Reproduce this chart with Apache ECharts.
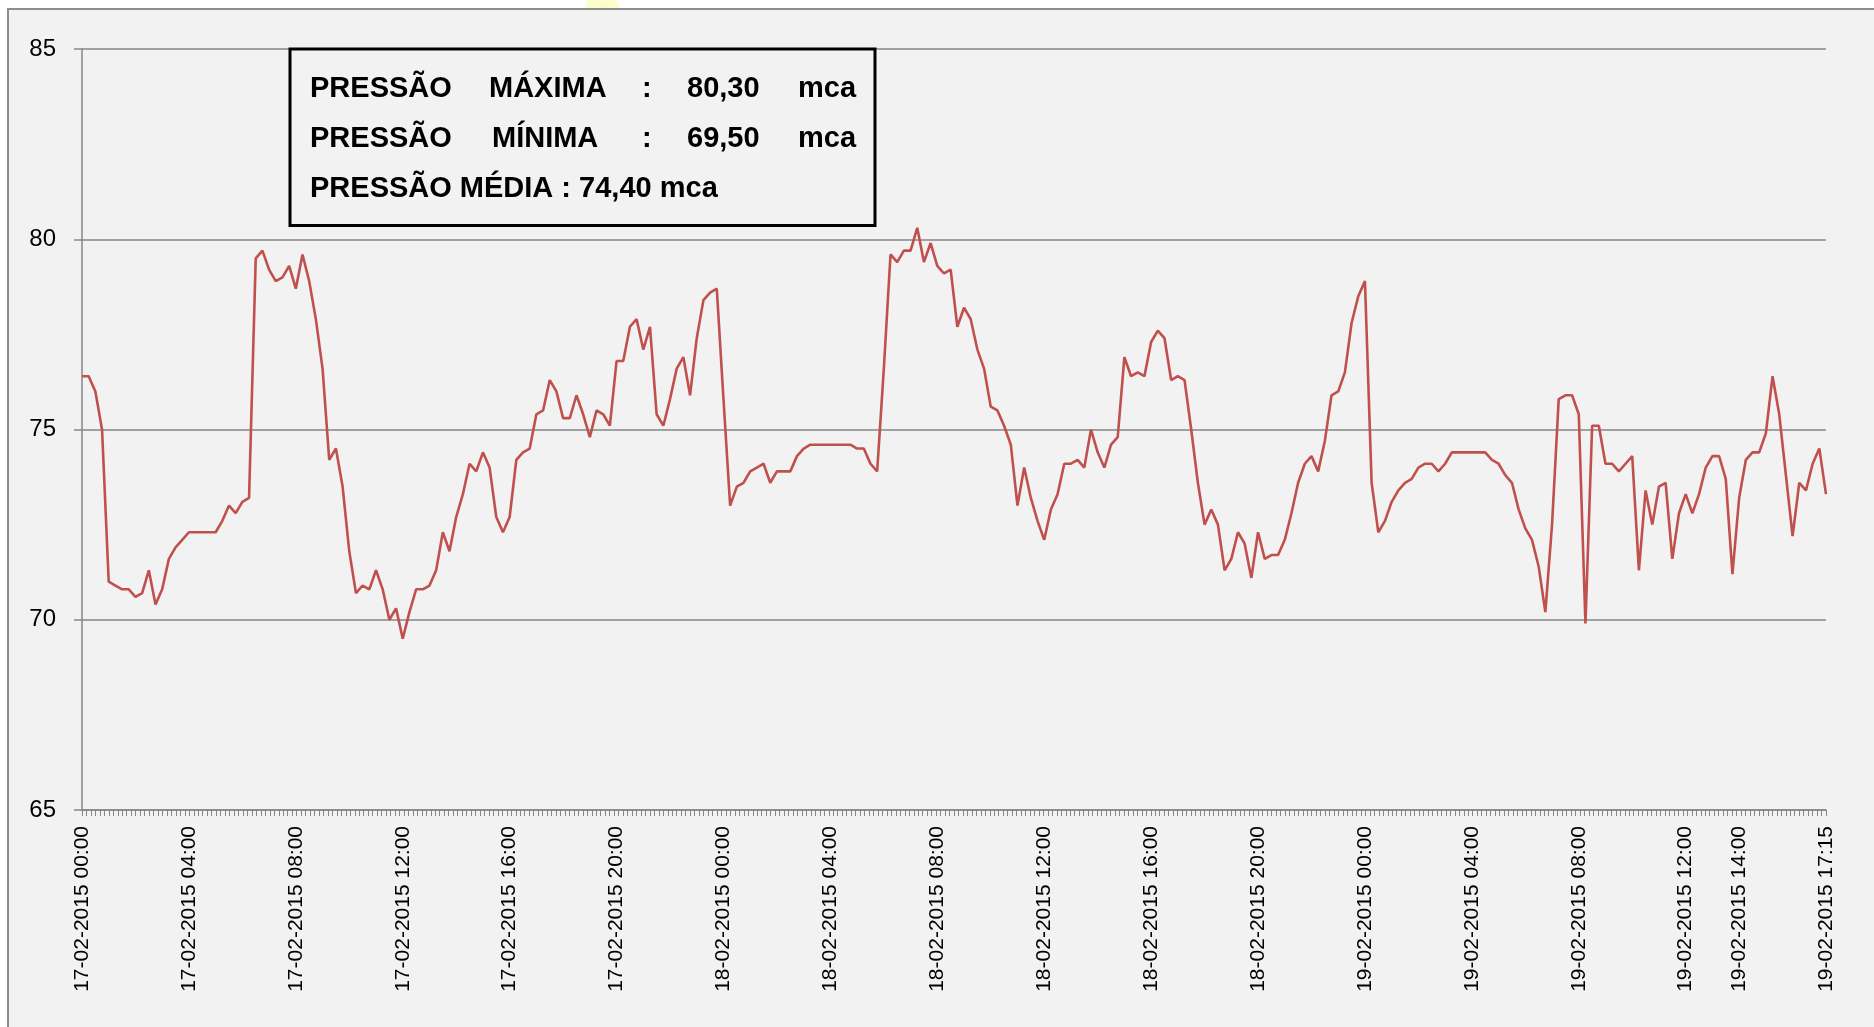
<!DOCTYPE html>
<html>
<head>
<meta charset="utf-8">
<title>Pressão</title>
<script src="https://cdn.jsdelivr.net/npm/echarts@6/dist/echarts.min.js"></script>
<style>
  body { margin: 0; background: #ffffff; }
  #grafico { width: 1874px; height: 1027px; }
</style>
</head>
<body>
<div id="grafico"></div>
<script>
// leituras de pressao (mca), uma a cada 15 minutos a partir de 17-02-2015 00:00
var valoresPressao = [
  76.4, 76.4, 76.0, 75.0, 71.0, 70.9, 70.8, 70.8, 70.6, 70.7,
  71.3, 70.4, 70.8, 71.6, 71.9, 72.1, 72.3, 72.3, 72.3, 72.3,
  72.3, 72.6, 73.0, 72.8, 73.1, 73.2, 79.5, 79.7, 79.2, 78.9,
  79.0, 79.3, 78.7, 79.6, 78.9, 77.9, 76.6, 74.2, 74.5, 73.5,
  71.8, 70.7, 70.9, 70.8, 71.3, 70.8, 70.0, 70.3, 69.5, 70.2,
  70.8, 70.8, 70.9, 71.3, 72.3, 71.8, 72.7, 73.3, 74.1, 73.9,
  74.4, 74.0, 72.7, 72.3, 72.7, 74.2, 74.4, 74.5, 75.4, 75.5,
  76.3, 76.0, 75.3, 75.3, 75.9, 75.4, 74.8, 75.5, 75.4, 75.1,
  76.8, 76.8, 77.7, 77.9, 77.1, 77.7, 75.4, 75.1, 75.8, 76.6,
  76.9, 75.9, 77.4, 78.4, 78.6, 78.7, 75.8, 73.0, 73.5, 73.6,
  73.9, 74.0, 74.1, 73.6, 73.9, 73.9, 73.9, 74.3, 74.5, 74.6,
  74.6, 74.6, 74.6, 74.6, 74.6, 74.6, 74.5, 74.5, 74.1, 73.9,
  76.6, 79.6, 79.4, 79.7, 79.7, 80.3, 79.4, 79.9, 79.3, 79.1,
  79.2, 77.7, 78.2, 77.9, 77.1, 76.6, 75.6, 75.5, 75.1, 74.6,
  73.0, 74.0, 73.2, 72.6, 72.1, 72.9, 73.3, 74.1, 74.1, 74.2,
  74.0, 75.0, 74.4, 74.0, 74.6, 74.8, 76.9, 76.4, 76.5, 76.4,
  77.3, 77.6, 77.4, 76.3, 76.4, 76.3, 75.0, 73.6, 72.5, 72.9,
  72.5, 71.3, 71.6, 72.3, 72.0, 71.1, 72.3, 71.6, 71.7, 71.7,
  72.1, 72.8, 73.6, 74.1, 74.3, 73.9, 74.7, 75.9, 76.0, 76.5,
  77.8, 78.5, 78.9, 73.6, 72.3, 72.6, 73.1, 73.4, 73.6, 73.7,
  74.0, 74.1, 74.1, 73.9, 74.1, 74.4, 74.4, 74.4, 74.4, 74.4,
  74.4, 74.2, 74.1, 73.8, 73.6, 72.9, 72.4, 72.1, 71.4, 70.2,
  72.5, 75.8, 75.9, 75.9, 75.4, 69.9, 75.1, 75.1, 74.1, 74.1,
  73.9, 74.1, 74.3, 71.3, 73.4, 72.5, 73.5, 73.6, 71.6, 72.8,
  73.3, 72.8, 73.3, 74.0, 74.3, 74.3, 73.7, 71.2, 73.2, 74.2,
  74.4, 74.4, 74.9, 76.4, 75.4, 73.8, 72.2, 73.6, 73.4, 74.1,
  74.5, 73.3
];

// rotulos que aparecem no eixo X
var rotulosEixoX = [
  '17-02-2015 00:00', '17-02-2015 04:00', '17-02-2015 08:00', '17-02-2015 12:00',
  '17-02-2015 16:00', '17-02-2015 20:00', '18-02-2015 00:00', '18-02-2015 04:00',
  '18-02-2015 08:00', '18-02-2015 12:00', '18-02-2015 16:00', '18-02-2015 20:00',
  '19-02-2015 00:00', '19-02-2015 04:00', '19-02-2015 08:00', '19-02-2015 12:00',
  '19-02-2015 14:00', '19-02-2015 17:15'
];

// escala do eixo Y
var minY = 65;
var maxY = 85;
var passoY = 5;

// textos do quadro
var linhaMaxima = ['PRESSÃO', 'MÁXIMA', ':', '80,30', 'mca'];
var linhaMinima = ['PRESSÃO', 'MÍNIMA', ':', '69,50', 'mca'];
var linhaMedia = 'PRESSÃO MÉDIA : 74,40 mca';

// categorias de hora (passo de 15 min)
function doisDig(n) { return (n < 10 ? '0' : '') + n; }
var categoriasHora = [];
var inicio = Date.UTC(2015, 1, 17, 0, 0);
for (var i = 0; i < valoresPressao.length; i++) {
  var d = new Date(inicio + i * 15 * 60000);
  categoriasHora.push(doisDig(d.getUTCDate()) + '-' + doisDig(d.getUTCMonth() + 1) + '-' +
    d.getUTCFullYear() + ' ' + doisDig(d.getUTCHours()) + ':' + doisDig(d.getUTCMinutes()));
}

var chartDom = document.getElementById('grafico');
var myChart = echarts.init(chartDom);

var fonteQuadro = 'bold 29px "Liberation Sans", Arial, sans-serif';
var colunasX = [310, 489, 642, 687, 798];
var textosQuadro = [];
linhaMaxima.forEach(function (t, k) {
  textosQuadro.push({ type: 'text', z: 20, style: { text: t, x: colunasX[k], y: 88.8, font: fonteQuadro, fill: '#000', verticalAlign: 'middle' } });
});
linhaMinima.forEach(function (t, k) {
  textosQuadro.push({ type: 'text', z: 20, style: { text: t, x: colunasX[k] + (k === 1 ? 3 : 0), y: 139, font: fonteQuadro, fill: '#000', verticalAlign: 'middle' } });
});
textosQuadro.push({ type: 'text', z: 20, style: { text: linhaMedia, x: 310, y: 189.2, font: fonteQuadro, fill: '#000', verticalAlign: 'middle' } });

var option = {
  backgroundColor: '#ffffff',
  animation: false,
  grid: { left: 82, right: 48, top: 49, bottom: 217, containLabel: false },
  xAxis: [
    {
      type: 'category',
      data: categoriasHora,
      boundaryGap: false,
      axisLine: { show: true, lineStyle: { color: '#868686', width: 1.5 } },
      axisTick: { show: false },
      splitLine: { show: false },
      axisLabel: {
        rotate: 90,
        margin: 16,
        interval: function (idx, valor) { return rotulosEixoX.indexOf(valor) >= 0; },
        color: '#000',
        fontFamily: '"Liberation Sans", Arial, sans-serif',
        fontSize: 21
      }
    },
    {
      // so para as marcas miudas do eixo
      type: 'value',
      position: 'bottom',
      min: 0,
      max: 390,
      interval: 1,
      axisLine: { show: false },
      axisTick: { show: true, length: 6, lineStyle: { color: '#868686', width: 1 } },
      axisLabel: { show: false },
      splitLine: { show: false }
    }
  ],
  yAxis: {
    type: 'value',
    min: minY,
    max: maxY,
    interval: passoY,
    axisLine: { show: true, lineStyle: { color: '#868686', width: 1.5 } },
    axisTick: { show: true, length: 8, lineStyle: { color: '#868686', width: 1.5 } },
    splitLine: { show: true, lineStyle: { color: '#868686', width: 1.6 } },
    axisLabel: {
      margin: 26,
      color: '#000',
      fontFamily: '"Liberation Sans", Arial, sans-serif',
      fontSize: 24
    }
  },
  series: [
    {
      type: 'line',
      xAxisIndex: 0,
      data: valoresPressao,
      showSymbol: false,
      symbol: 'none',
      lineStyle: { color: '#c0504d', width: 2.6 },
      z: 5
    }
  ],
  graphic: [
    {
      // mancha amarela clara no topo
      type: 'ellipse', z: -20,
      shape: { cx: 602, cy: 12, rx: 46, ry: 22 },
      style: {
        fill: {
          type: 'radial', x: 0.5, y: 0.5, r: 0.5,
          colorStops: [{ offset: 0, color: '#fdfcc0' }, { offset: 0.75, color: '#fefdd2' }, { offset: 1, color: 'rgba(255,255,255,0)' }]
        }
      }
    },
    {
      type: 'rect', z: -10,
      shape: { x: 8, y: 9, width: 2000, height: 1200 },
      style: { fill: '#f2f2f2', stroke: '#8c8c8c', lineWidth: 2 }
    },
    {
      type: 'rect', z: 15,
      shape: { x: 290, y: 49, width: 585, height: 176.5 },
      style: { fill: '#f2f2f2', stroke: '#000', lineWidth: 3 }
    }
  ].concat(textosQuadro)
};

option && myChart.setOption(option);
</script>
</body>
</html>
